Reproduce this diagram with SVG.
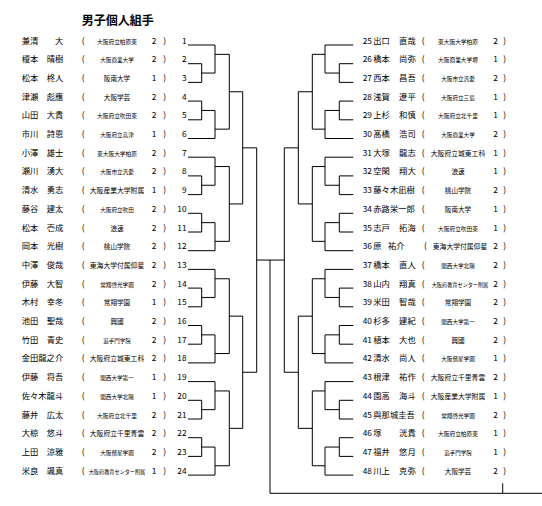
<svg xmlns="http://www.w3.org/2000/svg" width="542" height="506" viewBox="0 0 542 506">
<style>
text{font-family:"Noto Sans CJK JP","Noto Sans",sans-serif;font-size:8.3px;fill:#000}
.e{text-anchor:end}
.sc{text-anchor:middle}
.s2,.s4{font-size:6.6px}
.s5{font-size:5.5px}
.s6{font-size:5.6px}
.s7{font-size:5.7px}
.s8{font-size:6.8px}
.s11{font-size:5.15px}
.t{font-size:12px;font-weight:bold}
#links path{fill:none;stroke:#000;stroke-width:1}
</style>
<rect width="542" height="506" fill="#fff"/>
<text class="t" x="81.7" y="24.8">男子個人組手</text>
<g id="links">
<path d="M188 45H215V73.05M188 63.7H201.7V82.4H188M201.7 73.05H215M215 54.35H229.3"/>
<path d="M188 101.1H201.7V119.8H188M201.7 110.45H215V138.5H188M215 129.15H229.3"/>
<path d="M229.3 54.35V129.15M229.3 91.75H242.7"/>
<path d="M188 157.2H215V185.25M188 175.9H201.7V194.6H188M201.7 185.25H215M215 166.55H229.3"/>
<path d="M188 213.3H201.7V232H188M201.7 222.65H215V250.7H188M215 241.35H229.3"/>
<path d="M229.3 166.55V241.35M229.3 203.95H242.7"/>
<path d="M242.7 91.75V203.95M242.7 147.85H256.7"/>
<path d="M188 269.4H215V297.45M188 288.1H201.7V306.8H188M201.7 297.45H215M215 278.75H229.3"/>
<path d="M188 325.5H201.7V344.2H188M201.7 334.85H215V362.9H188M215 353.55H229.3"/>
<path d="M229.3 278.75V353.55M229.3 316.15H242.7"/>
<path d="M188 381.6H215V409.65M188 400.3H201.7V419H188M201.7 409.65H215M215 390.95H229.3"/>
<path d="M188 437.7H201.7V456.4H188M201.7 447.05H215V475.1H188M215 465.75H229.3"/>
<path d="M229.3 390.95V465.75M229.3 428.35H242.7"/>
<path d="M242.7 316.15V428.35M242.7 372.25H256.7"/>
<path d="M256.7 147.85V372.25"/>
<path d="M353.3 45H325V73.05M353.3 63.7H339.3V82.4H353.3M339.3 73.05H325M325 54.35H312.3"/>
<path d="M353.3 101.1H339.3V119.8H353.3M339.3 110.45H325V138.5H353.3M325 129.15H312.3"/>
<path d="M312.3 54.35V129.15M312.3 91.75H298.3"/>
<path d="M353.3 157.2H325V185.25M353.3 175.9H339.3V194.6H353.3M339.3 185.25H325M325 166.55H312.3"/>
<path d="M353.3 213.3H339.3V232H353.3M339.3 222.65H325V250.7H353.3M325 241.35H312.3"/>
<path d="M312.3 166.55V241.35M312.3 203.95H298.3"/>
<path d="M298.3 91.75V203.95M298.3 147.85H284.3"/>
<path d="M353.3 269.4H325V297.45M353.3 288.1H339.3V306.8H353.3M339.3 297.45H325M325 278.75H312.3"/>
<path d="M353.3 325.5H339.3V344.2H353.3M339.3 334.85H325V362.9H353.3M325 353.55H312.3"/>
<path d="M312.3 278.75V353.55M312.3 316.15H298.3"/>
<path d="M353.3 381.6H325V409.65M353.3 400.3H339.3V419H353.3M339.3 409.65H325M325 390.95H312.3"/>
<path d="M353.3 437.7H339.3V456.4H353.3M339.3 447.05H325V475.1H353.3M325 465.75H312.3"/>
<path d="M312.3 390.95V465.75M312.3 428.35H298.3"/>
<path d="M298.3 316.15V428.35M298.3 372.25H284.3"/>
<path d="M284.3 147.85V372.25"/>
<path d="M256.7 260.05H284.3M270 260.05V493.3H542M502.7 483.3V493.3"/>
</g>
<g id="p1" transform="translate(0 43.5)"><text x="21.7">兼清</text><text class="e" x="63.3">大</text><text x="81.7">(</text><text class="sc s7" x="117">大阪府立柏原東</text><text x="151.7">2</text><text x="163.3">)</text><text class="e" x="186.5">1</text></g>
<g id="p2" transform="translate(0 62.2)"><text x="21.7">榎本</text><text class="e" x="63.3">晴樹</text><text x="81.7">(</text><text class="sc s6" x="117">大阪商業大学</text><text x="151.7">2</text><text x="163.3">)</text><text class="e" x="186.5">2</text></g>
<g id="p3" transform="translate(0 80.9)"><text x="21.7">松本</text><text class="e" x="63.3">柊人</text><text x="81.7">(</text><text class="sc s4" x="117">阪南大学</text><text x="151.7">1</text><text x="163.3">)</text><text class="e" x="186.5">3</text></g>
<g id="p4" transform="translate(0 99.6)"><text x="21.7">津瀬</text><text class="e" x="63.3">彪應</text><text x="81.7">(</text><text class="sc s4" x="117">大阪学芸</text><text x="151.7">2</text><text x="163.3">)</text><text class="e" x="186.5">4</text></g>
<g id="p5" transform="translate(0 118.3)"><text x="21.7">山田</text><text class="e" x="63.3">大貴</text><text x="81.7">(</text><text class="sc s7" x="117">大阪府立吹田東</text><text x="151.7">2</text><text x="163.3">)</text><text class="e" x="186.5">5</text></g>
<g id="p6" transform="translate(0 137)"><text x="21.7">市川</text><text class="e" x="63.3">詩恩</text><text x="81.7">(</text><text class="sc s6" x="117">大阪府立高津</text><text x="151.7">1</text><text x="163.3">)</text><text class="e" x="186.5">6</text></g>
<g id="p7" transform="translate(0 155.7)"><text x="21.7">小澤</text><text class="e" x="63.3">雄士</text><text x="81.7">(</text><text class="sc s7" x="117">東大阪大学柏原</text><text x="151.7">2</text><text x="163.3">)</text><text class="e" x="186.5">7</text></g>
<g id="p8" transform="translate(0 174.4)"><text x="21.7">瀬川</text><text class="e" x="63.3">湧大</text><text x="81.7">(</text><text class="sc s6" x="117">大阪市立汎愛</text><text x="151.7">2</text><text x="163.3">)</text><text class="e" x="186.5">8</text></g>
<g id="p9" transform="translate(0 193.1)"><text x="21.7">清水</text><text class="e" x="63.3">勇志</text><text x="81.7">(</text><text class="sc s8" x="117">大阪産業大学附属</text><text x="151.7">1</text><text x="163.3">)</text><text class="e" x="186.5">9</text></g>
<g id="p10" transform="translate(0 211.8)"><text x="21.7">藤谷</text><text class="e" x="63.3">建太</text><text x="81.7">(</text><text class="sc s6" x="117">大阪府立吹田</text><text x="151.7">2</text><text x="163.3">)</text><text class="e" x="186.5">10</text></g>
<g id="p11" transform="translate(0 230.5)"><text x="21.7">松本</text><text class="e" x="63.3">壱成</text><text x="81.7">(</text><text class="sc s2" x="117">浪速</text><text x="151.7">2</text><text x="163.3">)</text><text class="e" x="186.5">11</text></g>
<g id="p12" transform="translate(0 249.2)"><text x="21.7">岡本</text><text class="e" x="63.3">光樹</text><text x="81.7">(</text><text class="sc s4" x="117">桃山学院</text><text x="151.7">2</text><text x="163.3">)</text><text class="e" x="186.5">12</text></g>
<g id="p13" transform="translate(0 267.9)"><text x="21.7">中澤</text><text class="e" x="63.3">俊哉</text><text x="81.7">(</text><text class="sc s8" x="117">東海大学付属仰星</text><text x="151.7">2</text><text x="163.3">)</text><text class="e" x="186.5">13</text></g>
<g id="p14" transform="translate(0 286.6)"><text x="21.7">伊藤</text><text class="e" x="63.3">大智</text><text x="81.7">(</text><text class="sc s6" x="117">常翔啓光学園</text><text x="151.7">2</text><text x="163.3">)</text><text class="e" x="186.5">14</text></g>
<g id="p15" transform="translate(0 305.3)"><text x="21.7">木村</text><text class="e" x="63.3">幸冬</text><text x="81.7">(</text><text class="sc s4" x="117">常翔学園</text><text x="151.7">1</text><text x="163.3">)</text><text class="e" x="186.5">15</text></g>
<g id="p16" transform="translate(0 324)"><text x="21.7">池田</text><text class="e" x="63.3">聖哉</text><text x="81.7">(</text><text class="sc s2" x="117">興國</text><text x="151.7">2</text><text x="163.3">)</text><text class="e" x="186.5">16</text></g>
<g id="p17" transform="translate(0 342.7)"><text x="21.7">竹田</text><text class="e" x="63.3">青史</text><text x="81.7">(</text><text class="sc s5" x="117">追手門学院</text><text x="151.7">2</text><text x="163.3">)</text><text class="e" x="186.5">17</text></g>
<g id="p18" transform="translate(0 361.4)"><text x="21.7">金田龍之介</text><text x="81.7">(</text><text class="sc s8" x="117">大阪府立城東工科</text><text x="151.7">2</text><text x="163.3">)</text><text class="e" x="186.5">18</text></g>
<g id="p19" transform="translate(0 380.1)"><text x="21.7">伊藤</text><text class="e" x="63.3">将吾</text><text x="81.7">(</text><text class="sc s6" x="117">関西大学第一</text><text x="151.7">1</text><text x="163.3">)</text><text class="e" x="186.5">19</text></g>
<g id="p20" transform="translate(0 398.8)"><text x="21.7">佐々木龍斗</text><text x="81.7">(</text><text class="sc s6" x="117">関西大学北陽</text><text x="151.7">1</text><text x="163.3">)</text><text class="e" x="186.5">20</text></g>
<g id="p21" transform="translate(0 417.5)"><text x="21.7">藤井</text><text class="e" x="63.3">広太</text><text x="81.7">(</text><text class="sc s7" x="117">大阪府立北千里</text><text x="151.7">2</text><text x="163.3">)</text><text class="e" x="186.5">21</text></g>
<g id="p22" transform="translate(0 436.2)"><text x="21.7">大椋</text><text class="e" x="63.3">悠斗</text><text x="81.7">(</text><text class="sc s8" x="117">大阪府立千里青雲</text><text x="151.7">2</text><text x="163.3">)</text><text class="e" x="186.5">22</text></g>
<g id="p23" transform="translate(0 454.9)"><text x="21.7">上田</text><text class="e" x="63.3">涼雅</text><text x="81.7">(</text><text class="sc s6" x="117">大阪偕星学園</text><text x="151.7">2</text><text x="163.3">)</text><text class="e" x="186.5">23</text></g>
<g id="p24" transform="translate(0 473.6)"><text x="21.7">米良</text><text class="e" x="63.3">颯真</text><text x="81.7">(</text><text class="sc s11" x="117">大阪府教育センター附属</text><text x="151.7">1</text><text x="163.3">)</text><text class="e" x="186.5">24</text></g>
<g id="p25" transform="translate(0 43.5)"><text x="362.7">25</text><text x="373.3">出口</text><text class="e" x="415.7">直哉</text><text x="421.7">(</text><text class="sc s7" x="458">東大阪大学柏原</text><text x="493.3">2</text><text x="503.3">)</text></g>
<g id="p26" transform="translate(0 62.2)"><text x="362.7">26</text><text x="373.3">橋本</text><text class="e" x="415.7">尚弥</text><text x="421.7">(</text><text class="sc s7" x="458">大阪商業大学堺</text><text x="493.3">1</text><text x="503.3">)</text></g>
<g id="p27" transform="translate(0 80.9)"><text x="362.7">27</text><text x="373.3">西本</text><text class="e" x="415.7">昌吾</text><text x="421.7">(</text><text class="sc s6" x="458">大阪市立汎愛</text><text x="493.3">2</text><text x="503.3">)</text></g>
<g id="p28" transform="translate(0 99.6)"><text x="362.7">28</text><text x="373.3">浅賀</text><text class="e" x="415.7">遼平</text><text x="421.7">(</text><text class="sc s6" x="458">大阪府立三島</text><text x="493.3">1</text><text x="503.3">)</text></g>
<g id="p29" transform="translate(0 118.3)"><text x="362.7">29</text><text x="373.3">上杉</text><text class="e" x="415.7">和慎</text><text x="421.7">(</text><text class="sc s7" x="458">大阪府立北千里</text><text x="493.3">1</text><text x="503.3">)</text></g>
<g id="p30" transform="translate(0 137)"><text x="362.7">30</text><text x="373.3">髙橋</text><text class="e" x="415.7">浩司</text><text x="421.7">(</text><text class="sc s6" x="458">大阪商業大学</text><text x="493.3">2</text><text x="503.3">)</text></g>
<g id="p31" transform="translate(0 155.7)"><text x="362.7">31</text><text x="373.3">大塚</text><text class="e" x="415.7">龍志</text><text x="421.7">(</text><text class="sc s8" x="458">大阪府立城東工科</text><text x="493.3">1</text><text x="503.3">)</text></g>
<g id="p32" transform="translate(0 174.4)"><text x="362.7">32</text><text x="373.3">空閑</text><text class="e" x="415.7">翔大</text><text x="421.7">(</text><text class="sc s2" x="458">浪速</text><text x="493.3">1</text><text x="503.3">)</text></g>
<g id="p33" transform="translate(0 193.1)"><text x="362.7">33</text><text x="373.3">藤々木凪樹</text><text x="421.7">(</text><text class="sc s4" x="458">桃山学院</text><text x="493.3">2</text><text x="503.3">)</text></g>
<g id="p34" transform="translate(0 211.8)"><text x="362.7">34</text><text x="373.3">赤路栄一郎</text><text x="421.7">(</text><text class="sc s4" x="458">阪南大学</text><text x="493.3">1</text><text x="503.3">)</text></g>
<g id="p35" transform="translate(0 230.5)"><text x="362.7">35</text><text x="373.3">志戸</text><text class="e" x="415.7">拓海</text><text x="421.7">(</text><text class="sc s7" x="458">大阪府立吹田東</text><text x="493.3">1</text><text x="503.3">)</text></g>
<g id="p36" transform="translate(0 249.2)"><text x="362.7">36</text><text x="373.3">原</text><text x="388">祐介</text><text x="424">(</text><text class="sc s8" x="460">東海大学付属仰星</text><text x="493.3">2</text><text x="503.3">)</text></g>
<g id="p37" transform="translate(0 267.9)"><text x="362.7">37</text><text x="373.3">橋本</text><text class="e" x="415.7">直人</text><text x="421.7">(</text><text class="sc s6" x="458">関西大学北陽</text><text x="493.3">2</text><text x="503.3">)</text></g>
<g id="p38" transform="translate(0 286.6)"><text x="362.7">38</text><text x="373.3">山内</text><text class="e" x="415.7">翔真</text><text x="421.7">(</text><text class="sc s11" x="460">大阪府教育センター附属</text><text x="493.3">2</text><text x="503.3">)</text></g>
<g id="p39" transform="translate(0 305.3)"><text x="362.7">39</text><text x="373.3">米田</text><text class="e" x="415.7">智哉</text><text x="421.7">(</text><text class="sc s4" x="458">常翔学園</text><text x="493.3">2</text><text x="503.3">)</text></g>
<g id="p40" transform="translate(0 324)"><text x="362.7">40</text><text x="373.3">杉多</text><text class="e" x="415.7">建紀</text><text x="421.7">(</text><text class="sc s6" x="458">関西大学第一</text><text x="493.3">2</text><text x="503.3">)</text></g>
<g id="p41" transform="translate(0 342.7)"><text x="362.7">41</text><text x="373.3">植本</text><text class="e" x="415.7">大也</text><text x="421.7">(</text><text class="sc s2" x="458">興國</text><text x="493.3">2</text><text x="503.3">)</text></g>
<g id="p42" transform="translate(0 361.4)"><text x="362.7">42</text><text x="373.3">清水</text><text class="e" x="415.7">尚人</text><text x="421.7">(</text><text class="sc s6" x="458">大阪偕星学園</text><text x="493.3">1</text><text x="503.3">)</text></g>
<g id="p43" transform="translate(0 380.1)"><text x="362.7">43</text><text x="373.3">根津</text><text class="e" x="415.7">祐作</text><text x="421.7">(</text><text class="sc s8" x="458">大阪府立千里青雲</text><text x="493.3">2</text><text x="503.3">)</text></g>
<g id="p44" transform="translate(0 398.8)"><text x="362.7">44</text><text x="373.3">園高</text><text class="e" x="415.7">海斗</text><text x="421.7">(</text><text class="sc s8" x="458">大阪産業大学附属</text><text x="493.3">1</text><text x="503.3">)</text></g>
<g id="p45" transform="translate(0 417.5)"><text x="362.7">45</text><text x="373.3">與那城圭吾</text><text x="421.7">(</text><text class="sc s6" x="458">常翔啓光学園</text><text x="493.3">2</text><text x="503.3">)</text></g>
<g id="p46" transform="translate(0 436.2)"><text x="362.7">46</text><text x="373.3">塚</text><text class="e" x="415.7">洸貴</text><text x="421.7">(</text><text class="sc s7" x="458">大阪府立柏原東</text><text x="493.3">1</text><text x="503.3">)</text></g>
<g id="p47" transform="translate(0 454.9)"><text x="362.7">47</text><text x="373.3">福井</text><text class="e" x="415.7">悠月</text><text x="421.7">(</text><text class="sc s5" x="458">追手門学院</text><text x="493.3">1</text><text x="503.3">)</text></g>
<g id="p48" transform="translate(0 473.6)"><text x="362.7">48</text><text x="373.3">川上</text><text class="e" x="415.7">克弥</text><text x="421.7">(</text><text class="sc s4" x="458">大阪学芸</text><text x="493.3">2</text><text x="503.3">)</text></g>
</svg>
